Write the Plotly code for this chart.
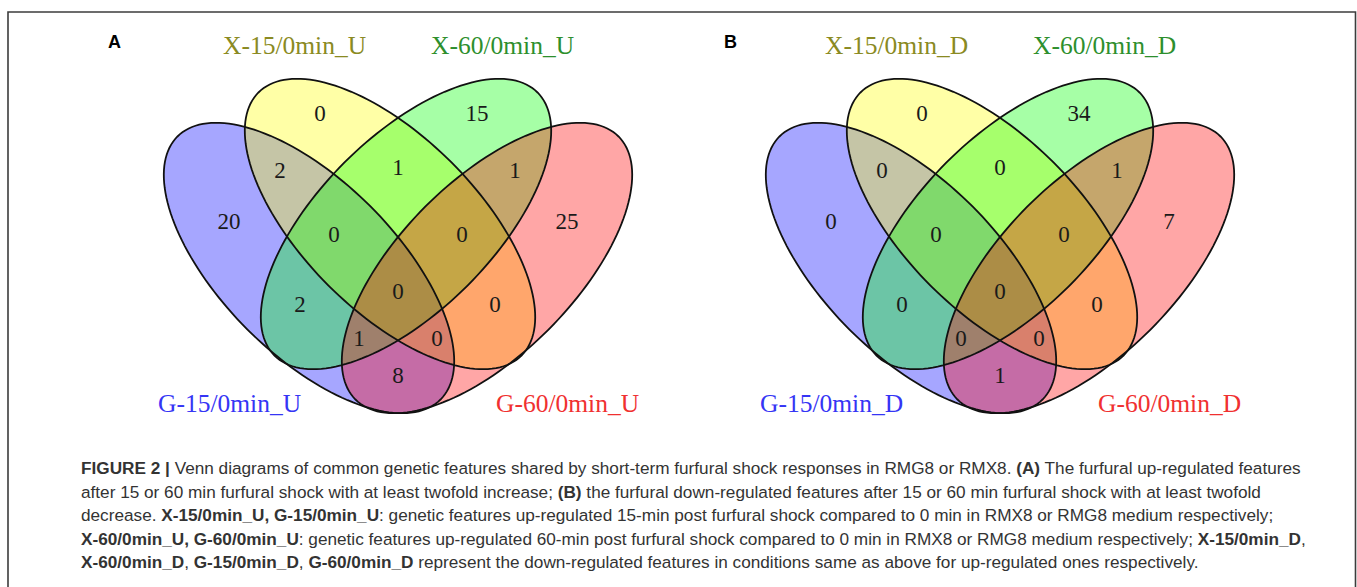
import numpy as np
import plotly.graph_objects as go

W, H = 1357, 587

# ---- data -------------------------------------------------------------
# set order inside each diagram (left to right): G-15, X-15, X-60, G-60
sets_up = ["G-15/0min_U", "X-15/0min_U", "X-60/0min_U", "G-60/0min_U"]
sets_down = ["G-15/0min_D", "X-15/0min_D", "X-60/0min_D", "G-60/0min_D"]

# each region is a membership code over (G-15, X-15, X-60, G-60)
regions = ["0100", "0010", "1000", "0001",
           "1100", "0110", "0011",
           "1110", "0111", "1111",
           "1010", "0101", "1011", "1101", "1001"]
counts_up = [0, 15, 20, 25,
             2, 1, 1,
             0, 0, 0,
             2, 0, 1, 0, 8]
counts_down = [0, 34, 0, 7,
               0, 0, 1,
               0, 0, 0,
               0, 0, 0, 0, 1]

panel_letters = ["A", "B"]

caption_lines = [
    "<b>FIGURE 2 |</b> Venn diagrams of common genetic features shared by short-term furfural shock responses in RMG8 or RMX8. <b>(A)</b> The furfural up-regulated features",
    "after 15 or 60 min furfural shock with at least twofold increase; <b>(B)</b> the furfural down-regulated features after 15 or 60 min furfural shock with at least twofold",
    "decrease. <b>X-15/0min_U, G-15/0min_U</b>: genetic features up-regulated 15-min post furfural shock compared to 0 min in RMX8 or RMG8 medium respectively;",
    "<b>X-60/0min_U, G-60/0min_U</b>: genetic features up-regulated 60-min post furfural shock compared to 0 min in RMX8 or RMG8 medium respectively; <b>X-15/0min_D</b>,",
    "<b>X-60/0min_D</b>, <b>G-15/0min_D</b>, <b>G-60/0min_D</b> represent the down-regulated features in conditions same as above for up-regulated ones respectively.",
]

# ---- layout / style ---------------------------------------------------
panel_axis = [398, 1000]          # vertical symmetry axis of each diagram
ELL_A, ELL_B = 186, 87            # semi-axes of every ellipse
# (x offset from axis, y centre, rotation in degrees) per set
ell_geom = [(-89, 268, 45), (-8, 224, 45), (8, 224, -45), (89, 268, -45)]
ell_fill = ["rgba(0,0,255,0.35)", "rgba(255,255,0,0.35)",
            "rgba(0,255,0,0.35)", "rgba(255,0,0,0.35)"]
set_label_pos = [(-169, 403), (-104, 45), (104, 45), (169, 403)]
set_label_col = ["#3535f5", "#8a8a22", "#2d8f2d", "#f03030"]
region_pos = {
    "0100": (-78, 115), "0010": (79, 115), "1000": (-169, 223), "0001": (169, 223),
    "1100": (-118, 172), "0110": (0, 169), "0011": (117, 172),
    "1110": (-64, 236), "0111": (64, 236), "1111": (0, 293),
    "1010": (-98, 306), "0101": (97, 306), "1011": (-39, 340), "1101": (39, 340),
    "1001": (0, 377),
}
letter_pos = [(114, 42), (730, 42)]
caption_x, caption_y0, caption_dy = 79, 468, 23.6

SERIF = "Liberation Serif"
SANS = "Liberation Sans"


def ellipse_path(cx, cy, a, b, deg, n=160):
    t = np.linspace(0, 2 * np.pi, n, endpoint=False)
    th = np.radians(deg)
    x = cx + a * np.cos(t) * np.cos(th) - b * np.sin(t) * np.sin(th)
    y = cy + a * np.cos(t) * np.sin(th) + b * np.sin(t) * np.cos(th)
    pts = [f"{xi:.2f},{yi:.2f}" for xi, yi in zip(x, y)]
    return "M " + " L ".join(pts) + " Z"


fig = go.Figure()
shapes, annotations = [], []

for axis_x, names, counts in zip(panel_axis, [sets_up, sets_down], [counts_up, counts_down]):
    paths = [ellipse_path(axis_x + dx, cy, ELL_A, ELL_B, rot) for dx, cy, rot in ell_geom]
    # translucent fills first, then the outlines, all beneath the count labels
    for p, col in zip(paths, ell_fill):
        shapes.append(dict(type="path", path=p, xref="x", yref="y",
                           fillcolor=col, line=dict(width=0), layer="below"))
    for p in paths:
        shapes.append(dict(type="path", path=p, xref="x", yref="y",
                           fillcolor="rgba(0,0,0,0)", line=dict(color="#111", width=1.8),
                           layer="below"))
    for name, (dx, y), col in zip(names, set_label_pos, set_label_col):
        annotations.append(dict(x=axis_x + dx, y=y, xref="x", yref="y", text=name,
                                showarrow=False, xanchor="center", yanchor="middle",
                                font=dict(family=SERIF, size=25.5, color=col)))
    # region counts as a text trace
    xs = [axis_x + region_pos[r][0] for r in regions]
    ys = [region_pos[r][1] for r in regions]
    fig.add_trace(go.Scatter(x=xs, y=ys, mode="text", text=[str(c) for c in counts],
                             textposition="middle center", hoverinfo="skip",
                             textfont=dict(family=SERIF, size=23, color="#1a1a1a"),
                             showlegend=False))

for letter, (x, y) in zip(panel_letters, letter_pos):
    annotations.append(dict(x=x, y=y, xref="x", yref="y", text=f"<b>{letter}</b>",
                            showarrow=False, xanchor="center", yanchor="middle",
                            font=dict(family=SANS, size=18, color="#000")))

for i, line in enumerate(caption_lines):
    annotations.append(dict(x=caption_x, y=caption_y0 + i * caption_dy, xref="x", yref="y",
                            text=line, showarrow=False, xanchor="left", yanchor="middle",
                            font=dict(family=SANS, size=17.2, color="#333333")))

# figure frame (bottom edge runs off the page)
shapes.append(dict(type="rect", x0=8, x1=1355.5, y0=12, y1=640, xref="x", yref="y",
                   line=dict(color="#3c3c3c", width=1.6), fillcolor="rgba(0,0,0,0)",
                   layer="above"))

fig.update_layout(
    width=W, height=H, margin=dict(l=0, r=0, t=0, b=0),
    paper_bgcolor="white", plot_bgcolor="white",
    xaxis=dict(range=[0, W], visible=False, fixedrange=True),
    yaxis=dict(range=[H, 0], visible=False, fixedrange=True),
    shapes=shapes, annotations=annotations, showlegend=False,
)

fig.write_html("out.html")
